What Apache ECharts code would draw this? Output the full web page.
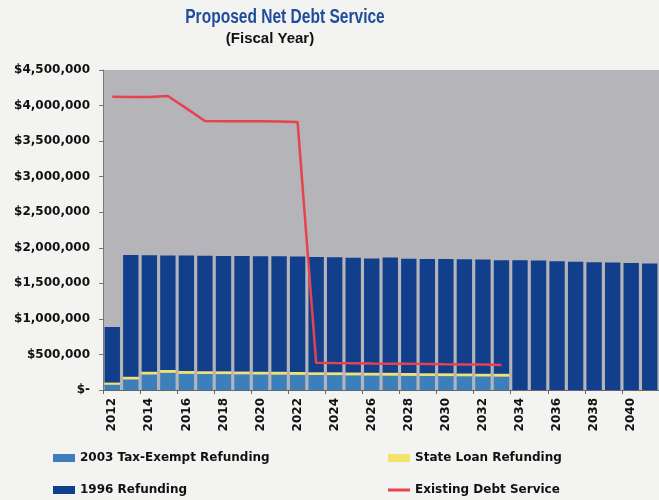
<!DOCTYPE html>
<html>
<head>
<meta charset="utf-8">
<script src="https://cdn.jsdelivr.net/npm/echarts@6/dist/echarts.min.js"></script>
<style>
html,body{margin:0;padding:0;background:#f3f3f1;}
#c{width:659px;height:500px;}
</style>
</head>
<body>
<div id="c"></div>
<script>
var years = [];
for (var y = 2012; y <= 2041; y++) years.push(String(y));

var taxExempt2003 = [75000,150000,220000,243000,228000,226000,224000,222000,220000,218000,215000,212000,210000,207000,205000,203000,200000,198000,196000,194000,192000,190000,0,0,0,0,0,0,0,0];
var stateLoan = [30000,38000,38000,38000,38000,38000,38000,38000,38000,38000,38000,38000,38000,38000,38000,38000,38000,38000,38000,38000,38000,38000,0,0,0,0,0,0,0,0];
var refunding1996 = [781000,1710000,1637000,1612000,1624000,1624000,1624000,1624000,1624000,1624000,1625000,1622000,1618000,1615000,1607000,1621000,1607000,1607000,1608000,1606000,1605000,1597000,1823000,1822000,1810000,1805000,1797000,1792000,1786000,1778000];
var existingDebt = [4125000,4120000,4120000,4135000,3960000,3783000,3780000,3780000,3778000,3775000,3770000,384000,378000,375000,372000,370000,368000,365000,362000,360000,357000,352000,null,null,null,null,null,null,null,null];

var C_LB = '#3d7fbb', C_Y = '#f2e36a', C_DK = '#123f8b', C_R = '#e8424f';
var F = 'DejaVu Sans, sans-serif';

function fmt(v){
  if (v === 0) return '$-';
  return '$' + String(v).replace(/\B(?=(\d{3})+(?!\d))/g, ',');
}

function leg(name, left, top, h){
  return {left: left, top: top, itemWidth: 22, itemHeight: h || 8, itemGap: 4, padding: 0,
    icon: 'rect',
    textStyle: {fontFamily: F, fontWeight: 'bold', fontSize: 12, color: '#111'},
    data: [name]};
}

var chart = echarts.init(document.getElementById('c'));
chart.setOption({
  backgroundColor: '#f3f3f1',
  animation: false,
  graphic: [
    {type: 'text', x: 285, y: 7, scaleX: 0.74, originX: 0,
     style: {text: 'Proposed Net Debt Service', align: 'center', verticalAlign: 'top',
       font: 'bold 21px "Liberation Sans", sans-serif', fill: '#1f4c9c'}},
    {type: 'text', x: 270, y: 31,
     style: {text: '(Fiscal Year)', align: 'center', verticalAlign: 'top',
       font: 'bold 15px "Liberation Sans", sans-serif', fill: '#111'}}
  ],
  legend: [
    leg('2003 Tax-Exempt Refunding', 53, 452),
    leg('1996 Refunding', 53, 484),
    leg('State Loan Refunding', 388, 452),
    leg('Existing Debt Service', 388, 484, 3)
  ],
  grid: {left: 103, top: 70, right: -10, bottom: 110, show: true, backgroundColor: '#b5b5b9', borderWidth: 0},
  xAxis: {
    type: 'category', data: years,
    axisLine: {show: true, lineStyle: {color: '#666', width: 1}},
    axisTick: {show: true, length: 4, lineStyle: {color: '#666'}},
    axisLabel: {rotate: 90, interval: 1, margin: 8, fontFamily: F, fontWeight: 'bold', fontSize: 12, color: '#111'}
  },
  yAxis: {
    type: 'value', min: 0, max: 4500000, interval: 500000,
    axisLine: {show: true, lineStyle: {color: '#777'}},
    axisTick: {show: true, length: 4, lineStyle: {color: '#777'}},
    splitLine: {show: false},
    axisLabel: {formatter: fmt, margin: 13, fontFamily: F, fontWeight: 'bold', fontSize: 12, color: '#111'}
  },
  series: [
    {name: '2003 Tax-Exempt Refunding', type: 'bar', stack: 's', data: taxExempt2003, itemStyle: {color: C_LB}, barCategoryGap: '17%'},
    {name: 'State Loan Refunding', type: 'bar', stack: 's', data: stateLoan, itemStyle: {color: C_Y}},
    {name: '1996 Refunding', type: 'bar', stack: 's', data: refunding1996, itemStyle: {color: C_DK}},
    {name: 'Existing Debt Service', type: 'line', data: existingDebt, symbol: 'none', connectNulls: false,
     lineStyle: {color: C_R, width: 2.5}, itemStyle: {color: C_R}, z: 5}
  ]
});
</script>
</body>
</html>
